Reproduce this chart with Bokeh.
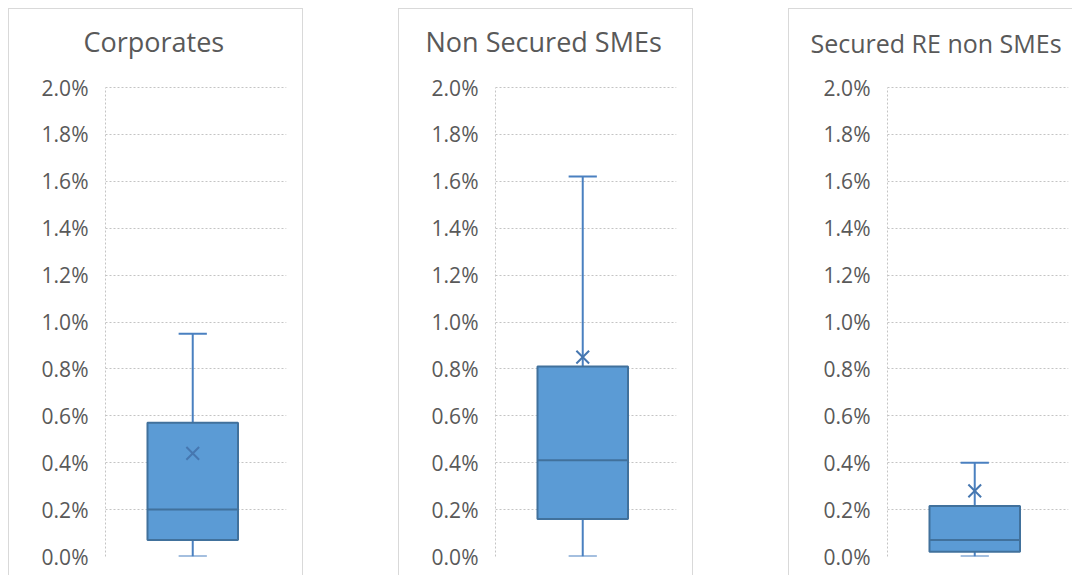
from bokeh.plotting import figure
from bokeh.layouts import row
from bokeh.models import Range1d, FixedTicker, NumeralTickFormatter, ColumnDataSource
from bokeh.embed import file_html
from bokeh.resources import INLINE

# ---- data ----
categories = ["Corporates", "Non Secured SMEs", "Secured RE non SMEs"]
whisker_low = [0.0, 0.0, 0.0]
q1 = [0.0007, 0.0016, 0.0002]
median = [0.0020, 0.0041, 0.0007]
q3 = [0.0057, 0.0081, 0.00215]
whisker_high = [0.0095, 0.0162, 0.0040]
mean = [0.0044, 0.0085, 0.0028]
y_ticks = [0.0, 0.002, 0.004, 0.006, 0.008, 0.010, 0.012, 0.014, 0.016, 0.018, 0.020]

FILL = "#5b9bd5"
EDGE = "#41719c"
WHISK = "#4a80c0"
GRID = "#c4c4c4"
TXT = "#595959"
FONT = "Open Sans"
H = 567
Y_TOP = 0.020768   # leaves room above the 2.0% line so the title can sit higher

widths = [295, 295, 284]
left_b = [96, 96, 98]
right_b = [18, 18, 5]
title_off = [-22, -70, -77]
title_size = ["27px", "27px", "25px"]
borders = [
    {"border": "1px solid #d9d9d9", "border-bottom": "none"},
    {"border": "1px solid #d9d9d9", "border-bottom": "none"},
    {"border": "1px solid #d9d9d9", "border-bottom": "none", "border-right": "none"},
]

figs = []
for i, cat in enumerate(categories):
    p = figure(width=widths[i], height=H, output_backend="svg", toolbar_location=None,
               x_range=Range1d(0, 1), y_range=Range1d(0, Y_TOP),
               min_border_left=left_b[i], min_border_right=right_b[i],
               min_border_top=60, min_border_bottom=20, styles=borders[i])
    p.title.text = cat
    p.title.text_font = FONT
    p.title.text_font_size = title_size[i]
    p.title.text_font_style = "normal"
    p.title.text_color = TXT
    p.title.align = "left"
    p.title.offset = title_off[i]
    p.title.vertical_align = "bottom"
    p.title.standoff = 20
    p.outline_line_color = None
    p.xaxis.visible = False
    p.xgrid.visible = False
    p.yaxis.ticker = FixedTicker(ticks=y_ticks)
    p.yaxis.bounds = (y_ticks[0], y_ticks[-1])
    p.yaxis.formatter = NumeralTickFormatter(format="0.0%")
    p.yaxis.major_label_text_font = FONT
    p.yaxis.major_label_text_font_size = "21px"
    p.yaxis.major_label_text_color = TXT
    p.yaxis.major_tick_line_color = None
    p.yaxis.minor_tick_line_color = None
    p.yaxis.major_label_standoff = 11
    p.yaxis.axis_line_color = GRID
    p.yaxis.axis_line_dash = "2 2"
    p.ygrid.grid_line_color = GRID
    p.ygrid.grid_line_dash = "2 2"

    c = 0.482
    src = ColumnDataSource(dict(x=[c], lo=[whisker_low[i]], q1=[q1[i]], med=[median[i]],
                                q3=[q3[i]], hi=[whisker_high[i]], mean=[mean[i]],
                                bl=[c - 0.25], br=[c + 0.25], cl=[c - 0.078], cr=[c + 0.078]))
    p.segment(x0="x", y0="q3", x1="x", y1="hi", source=src, line_color=WHISK, line_width=2)
    p.segment(x0="x", y0="lo", x1="x", y1="q1", source=src, line_color=WHISK, line_width=2)
    p.segment(x0="cl", y0="hi", x1="cr", y1="hi", source=src, line_color=WHISK, line_width=2)
    p.segment(x0="cl", y0="lo", x1="cr", y1="lo", source=src, line_color=WHISK, line_width=2)
    p.quad(left="bl", right="br", bottom="q1", top="q3", source=src,
           fill_color=FILL, line_color=EDGE, line_width=2)
    p.segment(x0="bl", y0="med", x1="br", y1="med", source=src, line_color=EDGE, line_width=2)
    p.scatter(x="x", y="mean", source=src, marker="x", size=18,
              line_color="#4677b0", line_width=2)
    figs.append(p)

layout = row(*figs, spacing=95, margin=(8, 0, 0, 8))
open("out.html", "w").write(file_html(layout, INLINE))
